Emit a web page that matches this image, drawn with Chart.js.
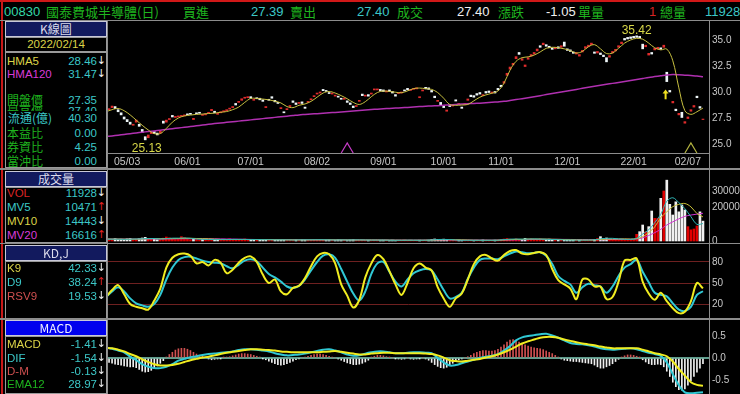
<!DOCTYPE html>
<html lang="zh-Hant">
<head>
<meta charset="utf-8">
<title>00830 K線圖</title>
<script src="https://cdn.jsdelivr.net/npm/chart.js@4.4.1/dist/chart.umd.min.js"></script>
<style>
html, body { margin: 0; padding: 0; background: #000; }
body { position: relative; width: 740px; height: 394px; overflow: hidden;
  font-family: "Liberation Sans", "Noto Sans CJK TC", sans-serif; }
canvas { position: absolute; left: 108px; }
.ln { position: absolute; background: #8c8c8c; z-index: 3; }
.top span { position: absolute; top: 3px; font-size: 13px; line-height: 17px; white-space: nowrap; }
.top .k { font-family: "Noto Sans CJK TC", sans-serif; }
.box { position: absolute; left: 5px; width: 100px; border: 1px solid #9a9a9a; z-index: 2; }
.hdr { background: #121a5e; color: #dcdcec; text-align: center; font-size: 12px; line-height: 14px; height: 14px;
  border-color: #c8c8d8; font-family: "Noto Sans CJK TC", sans-serif; }
.hdr.sel { background: #0000ee; color: #f0f0ff; }
.row { position: absolute; left: 5px; width: 102px; height: 14px; line-height: 14px; font-size: 11.5px;
  white-space: nowrap; z-index: 2; }
.row b { font-weight: normal; position: absolute; left: 2px; }
.row b.k { font-family: "Noto Sans CJK TC", sans-serif; font-size: 12px; }
.row i { font-style: normal; position: absolute; right: 10px; color: #3cc8c8; }
.row u { text-decoration: none; position: absolute; right: 1px; color: #f0f0f0; font-family: "DejaVu Sans", sans-serif; font-size: 11px; }
.row u.up { color: #e02020; }
.g { color: #1fb41f; } .c { color: #3cc8c8; } .y { color: #dcd448; } .m { color: #d83cd8; }
.r { color: #d82424; } .w { color: #f0f0f0; } .s { color: #d05050; } .t { color: #34d8a8; }
</style>
</head>
<body>

<div class="top">
  <span class="t" style="left:4px">00830</span>
  <span class="k g" style="left:46px">國泰費城半導體(日)</span>
  <span class="k g" style="left:183px">買進</span>
  <span class="c" style="left:251px">27.39</span>
  <span class="k g" style="left:290px">賣出</span>
  <span class="c" style="left:357px">27.40</span>
  <span class="k g" style="left:397px">成交</span>
  <span class="w" style="left:457px">27.40</span>
  <span class="k g" style="left:498px">漲跌</span>
  <span class="w" style="left:546px">-1.05</span>
  <span class="k g" style="left:578px">單量</span>
  <span class="r" style="left:649px">1</span>
  <span class="k g" style="left:660px">總量</span>
  <span class="c" style="left:705px">11928</span>
</div>

<!-- K線圖 -->
<div class="box hdr" style="top:21px">K線圖</div>
<div class="box y" style="top:37px;height:13px;line-height:13px;font-size:11.5px;text-align:center">2022/02/14</div>
<div class="box" style="top:52px;height:114px"></div>
<div class="row" style="top:54px"><b class="y">HMA5</b><i>28.46</i><u>↓</u></div>
<div class="row" style="top:67px"><b class="m">HMA120</b><i>31.47</i><u>↓</u></div>
<div class="row" style="top:93px"><b class="k g">開盤價</b><i>27.35</i></div>
<div class="row" style="top:104px"><b class="k g">最高價</b><i>27.40</i></div>
<div class="row" style="top:111px;background:#000;width:100px;left:6px"><b class="k c">流通(億)</b><i style="right:9px">40.30</i></div>
<div class="row" style="top:126px"><b class="k g">本益比</b><i>0.00</i></div>
<div class="row" style="top:140px"><b class="k g">券資比</b><i>4.25</i></div>
<div class="row" style="top:154px"><b class="k g">當沖比</b><i>0.00</i></div>

<!-- 成交量 -->
<div class="box hdr" style="top:171px">成交量</div>
<div class="box" style="top:187px;height:54px"></div>
<div class="row" style="top:186px"><b class="r">VOL</b><i>11928</i><u>↓</u></div>
<div class="row" style="top:200px"><b class="c">MV5</b><i>10471</i><u class="up">↑</u></div>
<div class="row" style="top:214px"><b class="y">MV10</b><i>14443</i><u>↓</u></div>
<div class="row" style="top:228px"><b class="m">MV20</b><i>16616</i><u class="up">↑</u></div>

<!-- KD -->
<div class="box hdr" style="top:245px">KD,J</div>
<div class="box" style="top:261px;height:56px"></div>
<div class="row" style="top:261px"><b class="y">K9</b><i>42.33</i><u>↓</u></div>
<div class="row" style="top:275px"><b class="c">D9</b><i>38.24</i><u class="up">↑</u></div>
<div class="row" style="top:289px"><b class="s">RSV9</b><i>19.53</i><u>↓</u></div>

<!-- MACD -->
<div class="box hdr sel" style="top:320px">MACD</div>
<div class="box" style="top:336px;height:56px"></div>
<div class="row" style="top:337px"><b class="y">MACD</b><i>-1.41</i><u>↓</u></div>
<div class="row" style="top:351px"><b class="c">DIF</b><i>-1.54</i><u>↓</u></div>
<div class="row" style="top:364px"><b class="s">D-M</b><i>-0.13</i><u>↓</u></div>
<div class="row" style="top:377px"><b class="g">EMA12</b><i>28.97</i><u>↓</u></div>

<canvas id="cPrice" width="632" height="149" style="top:20px"></canvas>
<canvas id="cVol" width="632" height="82" style="top:170px"></canvas>
<canvas id="cKd" width="632" height="75" style="top:244px"></canvas>
<canvas id="cMacd" width="632" height="74" style="top:320px"></canvas>

<div class="ln" style="left:0;top:0;width:740px;height:2px;background:#d01818"></div>
<div class="ln" style="left:1px;top:0;width:2px;height:394px;background:#c81818"></div>
<div class="ln" style="left:0;top:20px;width:740px;height:1px"></div>
<div class="ln" style="left:107px;top:20px;width:1px;height:374px"></div>
<div class="ln" style="left:709px;top:20px;width:1px;height:374px"></div>
<div class="ln" style="left:108px;top:153px;width:601px;height:1px"></div>
<div class="ln" style="left:0;top:168px;width:740px;height:2px"></div>
<div class="ln" style="left:0;top:243px;width:740px;height:1px"></div>
<div class="ln" style="left:0;top:318px;width:740px;height:2px"></div>

<script>
// trading days: index 0 = 2021/04/26 ... index 197 = 2022/02/14
var tickDays = [6, 26, 47, 69, 91, 111, 130, 152, 174, 192];
var tickLabels = ['05/03', '06/01', '07/01', '08/02', '09/01', '10/01', '11/01', '12/01', '22/01', '02/07'];

// daily candles (close / open)
var close = [
  28.4, 28.65, 28.4, 28.1, 27.8, 27.4, 27.15, 26.9, 26.9, 27.3,
  26.7, 26.1, 25.4, 25.87, 26.2, 26.0, 25.87, 26.25, 27.0, 27.3,
  27.45, 27.6, 27.65, 27.7, 27.75, 27.8, 27.8, 27.85, 27.47, 27.9,
  27.95, 27.85, 27.9, 28.05, 28.33, 28.0, 27.95, 28.1, 28.2, 28.3,
  28.45, 28.6, 28.75, 29.1, 29.35, 29.5, 29.55, 29.4, 29.3, 29.35,
  29.25, 29.1, 28.6, 29.2, 29.4, 29.05, 28.9, 28.5, 28.0, 28.4,
  28.7, 29.0, 28.8, 29.0, 28.9, 28.43, 29.1, 29.35, 29.65, 29.9,
  30.0, 30.13, 30.05, 29.85, 29.9, 29.7, 29.5, 29.3, 29.4, 29.0,
  28.8, 28.5, 28.7, 29.2, 29.65, 29.7, 29.6, 29.9, 30.3, 30.3,
  30.1, 30.05, 30.1, 30.05, 29.9, 29.6, 29.95, 30.0, 30.1, 30.2,
  30.25, 30.35, 30.4, 29.55, 30.2, 30.3, 30.25, 30.0, 29.45, 29.2,
  28.7, 28.5, 28.27, 28.6, 28.75, 29.13, 28.9, 28.43, 28.9, 29.33,
  29.55, 29.5, 29.7, 29.8, 29.75, 29.9, 29.95, 30.0, 29.9, 30.2,
  30.5, 31.0, 31.8, 32.4, 32.76, 33.4, 33.62, 33.2, 32.6, 33.3,
  33.6, 33.8, 34.13, 34.3, 34.7, 34.4, 34.25, 34.1, 34.3, 34.2,
  34.45, 34.4, 34.0, 33.9, 33.72, 33.8, 33.6, 34.0, 34.36, 34.5,
  34.7, 33.72, 33.9, 33.6, 33.4, 32.9, 33.5, 33.9, 34.1, 34.45,
  34.8, 35.0, 35.1, 35.15, 35.2, 35.25, 35.2, 34.15, 34.5, 33.72,
  33.65, 34.2, 34.3, 34.1, 34.5, 31.0, 30.0, 29.1, 28.2, 27.95,
  27.55, 27.15, 27.6, 28.3, 28.7, 29.45, 28.45, 27.4
];
var open = [
  28.3, 28.5, 28.6, 28.3, 28.0, 27.6, 27.35, 27.1, 26.8, 27.1,
  26.9, 26.4, 25.7, 25.6, 26.0, 26.2, 26.05, 26.05, 27.2, 27.1,
  27.35, 27.75, 27.55, 27.6, 27.65, 27.7, 27.9, 27.95, 27.35, 28.0,
  28.05, 27.75, 27.8, 27.95, 28.2, 28.15, 27.85, 28.0, 28.1, 28.2,
  28.35, 28.5, 28.9, 29.0, 29.2, 29.4, 29.45, 29.55, 29.2, 29.45,
  29.4, 29.25, 28.5, 29.3, 29.55, 29.2, 29.0, 28.4, 28.1, 28.3,
  28.6, 29.15, 28.95, 28.9, 29.05, 28.55, 29.0, 29.25, 29.55, 29.8,
  29.9, 30.25, 30.15, 29.95, 29.8, 29.6, 29.6, 29.4, 29.3, 29.15,
  28.95, 28.65, 28.6, 29.1, 29.8, 29.6, 29.75, 29.8, 30.2, 30.2,
  30.25, 30.2, 30.0, 30.2, 30.05, 29.75, 29.85, 29.9, 30.2, 30.35,
  30.15, 30.25, 30.3, 29.45, 30.1, 30.45, 30.4, 30.15, 29.6, 29.1,
  29.0, 28.65, 28.15, 28.75, 28.65, 29.25, 28.8, 28.55, 28.8, 29.2,
  29.7, 29.65, 29.85, 29.95, 29.65, 30.05, 30.1, 29.9, 30.05, 30.35,
  30.65, 30.85, 31.6, 32.2, 32.6, 33.2, 33.8, 33.05, 32.45, 33.15,
  33.45, 33.65, 33.95, 34.45, 34.55, 34.55, 34.4, 34.25, 34.15, 34.35,
  34.3, 34.8, 34.15, 34.05, 33.85, 33.65, 33.45, 33.85, 34.2, 34.35,
  34.55, 33.85, 33.75, 33.75, 33.55, 33.3, 33.35, 33.75, 33.95, 34.3,
  34.65, 35.15, 35.25, 35.3, 35.35, 35.4, 35.35, 34.6, 34.35, 33.55,
  33.8, 34.05, 34.15, 34.25, 34.3, 31.9, 30.15, 28.95, 28.35, 27.8,
  28.05, 27.0, 27.45, 28.15, 28.55, 29.6, 28.6, 27.35
];
var volume = [
  1200, 900, 1500, 800, 1100, 700, 1300, 1600, 900, 1000,
  1400, 1800, 2200, 1300, 900, 1100, 800, 1000, 1700, 2400,
  1900, 1200, 900, 1500, 2600, 2000, 1100, 800, 1300, 1000,
  700, 900, 1200, 800, 1000, 600, 900, 700, 1100, 800,
  1300, 900, 700, 1000, 800, 1200, 600, 900, 700, 800,
  600, 1000, 700, 500, 900, 600, 800, 700, 500, 600,
  700, 500, 800, 600, 900, 700, 500, 600, 800, 1000,
  700, 600, 500, 700, 600, 500, 800, 600, 700, 500,
  600, 900, 500, 700, 600, 500, 400, 600, 500, 700,
  400, 500, 600, 400, 500, 300, 400, 500, 600, 400,
  500, 400, 300, 500, 400, 600, 500, 900, 1200, 1000,
  800, 1100, 700, 500, 400, 600, 500, 400, 300, 500,
  400, 300, 500, 400, 600, 500, 400, 300, 500, 700,
  900, 1200, 1500, 1100, 800, 1300, 1000, 900, 1600, 1200,
  1400, 1100, 900, 1300, 1000, 800, 1100, 700, 600, 800,
  600, 700, 500, 400, 600, 500, 400, 600, 500, 700,
  800, 1000, 1500, 2600, 1400, 1800, 1100, 900, 700, 1000,
  1200, 1200, 1100, 900, 800, 4000, 5600, 9600, 5600, 8600,
  18000, 13600, 13600, 25600, 30000, 36500, 22000, 15600, 23500, 17500,
  21600, 18600, 8600, 6700, 7200, 9000, 17500, 11928
];
// MACD oscillator (D-M) bars, daily
var osc = [
  -0.10, -0.12, -0.14, -0.15, -0.16, -0.18, -0.19, -0.20, -0.20, -0.22,
  -0.26, -0.30, -0.32, -0.31, -0.28, -0.24, -0.18, -0.12, -0.06, 0.02,
  0.08, 0.13, 0.18, 0.21, 0.22, 0.22, 0.20, 0.17, 0.13, 0.09,
  0.06, 0.04, 0.02, -0.02, -0.04, -0.03, -0.02, -0.01, 0.01, 0.02,
  0.03, 0.05, 0.07, 0.09, 0.10, 0.10, 0.09, 0.08, 0.06, 0.04,
  0.02, -0.01, -0.04, -0.07, -0.10, -0.13, -0.15, -0.16, -0.15, -0.13,
  -0.10, -0.07, -0.04, -0.02, 0.00, 0.02, 0.04, 0.06, 0.08, 0.09,
  0.09, 0.08, 0.06, 0.04, 0.02, 0.00, -0.02, -0.05, -0.08, -0.11,
  -0.13, -0.15, -0.15, -0.14, -0.12, -0.09, -0.05, 0.02, 0.04, 0.06,
  0.06, 0.05, 0.03, 0.01, 0.00, -0.01, -0.02, -0.03, -0.02, 0.00,
  -0.02, -0.03, -0.02, -0.01, 0.00, -0.02, -0.05, -0.10, -0.15, -0.19,
  -0.22, -0.23, -0.21, -0.17, -0.12, -0.08, -0.04, -0.02, 0.00, 0.03,
  0.06, 0.10, 0.13, 0.15, 0.17, 0.17, 0.16, 0.16, 0.17, 0.20,
  0.25, 0.30, 0.36, 0.41, 0.42, 0.40, 0.36, 0.32, 0.30, 0.27,
  0.25, 0.23, 0.22, 0.21, 0.19, 0.16, 0.13, 0.10, 0.06, 0.02,
  -0.02, -0.05, -0.06, -0.07, -0.08, -0.08, -0.09, -0.10, -0.11, -0.12,
  -0.13, -0.16, -0.20, -0.23, -0.23, -0.20, -0.17, -0.13, -0.08, -0.03,
  0.02, 0.05, 0.07, 0.07, 0.06, 0.04, 0.01, -0.04, -0.09, -0.13,
  -0.15, -0.15, -0.14, -0.15, -0.20, -0.30, -0.42, -0.55, -0.65, -0.72,
  -0.73, -0.70, -0.62, -0.52, -0.42, -0.32, -0.23, -0.13
];

// line series, read every other trading day (days -1, 1, 3 ... 197)
var hma5 = [
  28.1, 28.3, 28.42, 28.2, 27.8, 27.3, 26.8, 26.35, 26.0, 26.0,
  26.5, 27.1, 27.5, 27.7, 27.78, 27.85, 27.88, 27.93, 27.97, 28.05,
  28.12, 28.3, 28.55, 29.0, 29.38, 29.38, 29.32, 29.25, 29.12, 28.95,
  28.6, 28.5, 28.72, 28.85, 29.1, 29.5, 29.9, 30.05, 29.9, 29.65,
  29.35, 29.0, 28.8, 29.07, 29.55, 29.95, 30.1, 30.05, 29.98, 29.93,
  30.1, 30.33, 30.38, 30.32, 30.25, 29.95, 29.4, 28.8, 28.72, 28.75,
  28.8, 29.15, 29.5, 29.72, 29.88, 30.1, 30.85, 32.1, 32.95, 33.3,
  33.38, 33.55, 33.85, 34.2, 34.3, 34.26, 34.15, 33.98, 33.75, 33.9,
  34.35, 34.55, 34.15, 33.7, 33.75, 34.2, 34.7, 35.0, 35.16, 35.08,
  34.7, 34.25, 34.05, 34.13, 33.0, 30.4, 28.2, 27.85, 28.1, 28.46
];
var hma120 = [
  25.72, 25.78, 25.85, 25.92, 25.99, 26.06, 26.13, 26.2, 26.26, 26.33,
  26.4, 26.47, 26.54, 26.61, 26.68, 26.75, 26.82, 26.89, 26.96, 27.02,
  27.08, 27.14, 27.2, 27.26, 27.32, 27.38, 27.44, 27.5, 27.56, 27.62,
  27.68, 27.74, 27.8, 27.84, 27.88, 27.92, 27.96, 28.0, 28.04, 28.08,
  28.12, 28.17, 28.22, 28.27, 28.31, 28.35, 28.39, 28.42, 28.45, 28.48,
  28.52, 28.56, 28.6, 28.63, 28.66, 28.69, 28.72, 28.76, 28.8, 28.84,
  28.87, 28.9, 28.93, 28.97, 29.01, 29.05, 29.1, 29.18, 29.27, 29.36,
  29.45, 29.55, 29.65, 29.75, 29.85, 29.95, 30.05, 30.15, 30.25, 30.35,
  30.45, 30.55, 30.65, 30.74, 30.83, 30.92, 31.01, 31.1, 31.2, 31.3,
  31.4, 31.48, 31.56, 31.64, 31.68, 31.66, 31.62, 31.58, 31.54, 31.47
];
var mv5 = [
  1100, 1100, 1100, 1000, 1100, 1200, 1300, 1500, 1500, 1200,
  1400, 1700, 1700, 1800, 1600, 1200, 1000, 900, 850, 850,
  850, 950, 950, 950, 850, 850, 800, 750, 700, 700,
  650, 600, 650, 700, 700, 750, 750, 650, 600, 650,
  600, 650, 650, 600, 550, 550, 550, 500, 450, 450,
  500, 480, 450, 500, 600, 900, 950, 850, 600, 450,
  450, 450, 450, 450, 450, 500, 850, 1100, 1200, 1100,
  1200, 1250, 1150, 1050, 900, 800, 650, 600, 550, 500,
  550, 700, 1300, 1600, 1600, 1300, 1000, 1000, 1600, 4200,
  6700, 11000, 16000, 23860, 25940, 23000, 19400, 14600, 10000, 10471
];
var mv10 = [
  1150, 1150, 1150, 1100, 1100, 1100, 1200, 1300, 1400, 1400,
  1400, 1400, 1500, 1600, 1650, 1500, 1400, 1300, 1100, 950,
  880, 900, 900, 920, 900, 880, 850, 800, 780, 750,
  700, 680, 660, 660, 680, 700, 700, 700, 680, 650,
  640, 620, 620, 610, 600, 580, 560, 540, 510, 480,
  480, 470, 470, 480, 520, 640, 720, 760, 740, 680,
  580, 480, 450, 450, 450, 460, 620, 780, 930, 1000,
  1150, 1170, 1170, 1120, 1050, 970, 860, 760, 680, 610,
  580, 620, 900, 1100, 1150, 1200, 1250, 1150, 1400, 2600,
  5000, 8500, 14000, 17500, 20600, 22000, 22500, 20500, 16500, 14443
];
var mv20 = [
  1150, 1150, 1150, 1150, 1150, 1150, 1180, 1200, 1220, 1250,
  1280, 1300, 1330, 1370, 1400, 1400, 1380, 1350, 1300, 1250,
  1200, 1150, 1080, 1000, 950, 900, 880, 860, 840, 820,
  800, 780, 760, 740, 720, 710, 700, 690, 680, 670,
  660, 650, 640, 630, 620, 610, 600, 580, 560, 540,
  530, 520, 520, 520, 530, 560, 600, 620, 620, 610,
  600, 580, 560, 540, 520, 500, 540, 600, 680, 760,
  850, 930, 980, 1000, 1000, 990, 960, 920, 880, 840,
  790, 760, 790, 850, 900, 950, 1000, 1050, 1250, 1900,
  3300, 5000, 7000, 9600, 11500, 13300, 14800, 15600, 16100, 16616
];
var k9 = [
  30, 40, 47, 34, 20, 16, 14, 12, 25, 42,
  72, 86, 91, 92, 89, 78, 80, 75, 83, 79,
  64, 69, 79, 86, 88, 80, 62, 50, 55, 38,
  34, 43, 46, 57, 74, 88, 93, 91, 78, 48,
  32, 15, 26, 58, 78, 90, 84, 67, 48, 33,
  50, 71, 78, 72, 68, 44, 28, 16, 28, 35,
  55, 77, 88, 90, 85, 82, 90, 95.7, 97, 92,
  91, 93, 94, 90, 70, 54, 48, 42, 27, 55,
  55, 45, 45, 27, 30, 52, 82, 83, 85, 52,
  35, 26, 36, 24, 14, 7, 9, 24, 50, 42.33
];
var d9 = [
  30, 38, 44, 38, 28, 21, 18, 16, 20, 33,
  55, 72, 83, 87, 87.6, 85, 82, 80, 79, 78,
  74, 71, 76, 82, 84, 81, 72, 63, 58, 52,
  45, 43, 46, 55, 68, 80, 89, 91, 86, 70,
  52, 35, 25, 38, 63, 78, 80, 66, 52, 45,
  55, 64, 68, 70, 68, 55, 40, 28, 30, 36,
  56, 72, 83, 85, 85, 84, 88, 92, 95, 94,
  92.4, 93, 94, 89, 77, 60, 53, 48, 36, 44,
  49, 47, 45, 36, 45, 60, 72, 77, 83, 66,
  51, 36, 33, 31, 21, 12, 10, 16, 33, 38.24
];
var dif = [
  0.24, 0.21, 0.17, 0.13, 0.03, -0.05, -0.14, -0.2, -0.23, -0.23,
  -0.2, -0.14, -0.06, -0.02, 0.02, 0.04, 0.07, 0.09, 0.1, 0.12,
  0.13, 0.15, 0.18, 0.2, 0.2, 0.19, 0.17, 0.15, 0.11, 0.08,
  0.06, 0.07, 0.08, 0.1, 0.13, 0.16, 0.19, 0.2, 0.17, 0.13,
  0.08, 0.05, 0.06, 0.1, 0.13, 0.15, 0.15, 0.13, 0.11, 0.11,
  0.12, 0.13, 0.13, 0.12, 0.11, 0.0, -0.1, -0.17, -0.16, -0.12,
  -0.08, -0.04, 0.0, 0.03, 0.05, 0.09, 0.17, 0.27, 0.4, 0.47,
  0.5, 0.52, 0.54, 0.55, 0.51, 0.46, 0.4, 0.34, 0.32, 0.31,
  0.29, 0.26, 0.22, 0.2, 0.19, 0.2, 0.21, 0.22, 0.2, 0.16,
  0.12, 0.09, 0.05, -0.1, -0.37, -0.62, -0.78, -0.8, -0.79, -0.78
];
var macd = [
  0.23, 0.22, 0.19, 0.15, 0.09, 0.04, -0.03, -0.09, -0.14, -0.17,
  -0.17, -0.16, -0.13, -0.09, -0.05, -0.02, 0.01, 0.03, 0.06, 0.09,
  0.12, 0.14, 0.16, 0.18, 0.2, 0.2, 0.19, 0.18, 0.17, 0.15,
  0.14, 0.13, 0.13, 0.13, 0.13, 0.13, 0.14, 0.15, 0.16, 0.14,
  0.12, 0.1, 0.08, 0.08, 0.1, 0.11, 0.12, 0.12, 0.11, 0.11,
  0.11, 0.11, 0.11, 0.1, 0.09, 0.06, 0.01, -0.05, -0.07, -0.08,
  -0.06, -0.04, -0.02, 0.01, 0.04, 0.08, 0.13, 0.19, 0.26, 0.33,
  0.38, 0.42, 0.46, 0.48, 0.48, 0.46, 0.42, 0.39, 0.36, 0.33,
  0.31, 0.29, 0.26, 0.24, 0.22, 0.22, 0.22, 0.22, 0.22, 0.19,
  0.15, 0.11, 0.08, 0.04, -0.08, -0.25, -0.4, -0.55, -0.61, -0.63
];

// marks on the price panel
var peakDay = 175, peakHigh = 35.42;
var lowDay = 12.5, lowLow = 25.13;
var signalDays = [79, 193];
var signalColors = ['#c83cc8', '#b4b440'];
var arrowDay = 184.6, arrowFrom = 29.3, arrowTo = 30.25;

var AXIS_FONT = '"Liberation Sans", Arial, sans-serif';
var xMin = -0.35, xMax = 199;
var days = close.map((v, i) => i);
var lineDays = hma5.map((v, i) => i * 2 - 1);

Chart.defaults.animation = false;
Chart.defaults.events = [];
Chart.defaults.plugins.legend.display = false;
Chart.defaults.plugins.tooltip.enabled = false;
Chart.defaults.font.family = AXIS_FONT;
Chart.defaults.font.size = 10;
Chart.defaults.color = '#c8c8c8';

function pts(xs, ys) {
    return ys.map((v, i) => ({ x: xs[i], y: v }));
}

function lineSet(values, color, width, order) {
    return {
        type: 'line',
        data: pts(lineDays, values),
        borderColor: color,
        borderWidth: width,
        pointRadius: 0,
        tension: 0.35,
        order: order
    };
}

function xAxis(show) {
    return {
        type: 'linear',
        min: xMin,
        max: xMax,
        offset: false,
        bounds: 'data',
        display: show,
        grid: { display: false, drawTicks: false },
        border: { display: false },
        afterBuildTicks: s => { s.ticks = tickDays.map(v => ({ value: v })); },
        afterFit: s => { s.height = show ? 16 : 0; s.paddingLeft = 0; s.paddingRight = 0; },
        ticks: {
            autoSkip: false,
            maxRotation: 0,
            padding: 3,
            color: '#c8c8c8',
            font: { size: 10.5 },
            callback: (v, i) => tickLabels[i]
        }
    };
}

function yAxis(min, max, ticks, fmt, grid) {
    return {
        position: 'right',
        min: min,
        max: max,
        bounds: 'data',
        grid: grid || { display: false, drawTicks: false },
        border: { display: false },
        afterBuildTicks: s => { s.ticks = ticks.map(v => ({ value: v })); },
        afterFit: s => { s.width = 31; s.paddingTop = 0; s.paddingBottom = 0; },
        ticks: { padding: 3, color: '#c8c8c8', autoSkip: false, callback: fmt }
    };
}

function options(y, showX, padBottom) {
    return {
        responsive: false,
        layout: { padding: { left: 0, right: 0, top: 0, bottom: padBottom || 0 } },
        scales: { x: xAxis(showX), y: y }
    };
}

var priceMarks = {
    id: 'priceMarks',
    afterDatasetsDraw(chart) {
        var c = chart.ctx, sx = chart.scales.x, sy = chart.scales.y, bottom = chart.chartArea.bottom;
        c.save();
        c.fillStyle = '#d8d848';
        c.font = '12px ' + AXIS_FONT;
        c.textAlign = 'center';
        c.textBaseline = 'bottom';
        c.fillText(peakHigh.toFixed(2), sx.getPixelForValue(peakDay), sy.getPixelForValue(peakHigh) + 1);
        c.textBaseline = 'top';
        c.fillText(lowLow.toFixed(2), sx.getPixelForValue(lowDay), sy.getPixelForValue(lowLow));

        c.lineWidth = 1.2;
        signalDays.forEach((d, i) => {
            var px = sx.getPixelForValue(d);
            c.strokeStyle = signalColors[i];
            c.beginPath();
            c.moveTo(px - 6, bottom);
            c.lineTo(px, bottom - 10);
            c.lineTo(px + 6, bottom);
            c.stroke();
        });

        var ax = sx.getPixelForValue(arrowDay), a0 = sy.getPixelForValue(arrowFrom), a1 = sy.getPixelForValue(arrowTo);
        c.strokeStyle = '#f0e020';
        c.fillStyle = '#f0e020';
        c.lineWidth = 2;
        c.beginPath();
        c.moveTo(ax, a0);
        c.lineTo(ax, a1 + 3);
        c.stroke();
        c.beginPath();
        c.moveTo(ax - 3, a1 + 4);
        c.lineTo(ax, a1);
        c.lineTo(ax + 3, a1 + 4);
        c.closePath();
        c.fill();
        c.restore();
    }
};

new Chart(document.getElementById('cPrice').getContext('2d'), {
    type: 'bar',
    data: {
        datasets: [
            lineSet(hma5, '#c8c040', 1, 1),
            lineSet(hma120, '#b030b0', 1.5, 2),
            {
                type: 'bar',
                data: days.map(i => ({ x: i, y: [open[i], close[i]] })),
                backgroundColor: days.map(i => close[i] >= open[i] ? '#e02c2c' : '#eef6f8'),
                barThickness: 2,
                borderSkipped: false,
                order: 3
            }
        ]
    },
    options: options(yAxis(24.135, 36.923, [25, 27.5, 30, 32.5, 35], v => v.toFixed(1)), true),
    plugins: [priceMarks]
});

new Chart(document.getElementById('cVol').getContext('2d'), {
    type: 'bar',
    data: {
        datasets: [
            lineSet(mv5, '#30b8b8', 1, 1),
            lineSet(mv10, '#c8c038', 1, 2),
            lineSet(mv20, '#d030d0', 1, 3),
            {
                type: 'bar',
                data: pts(days, volume),
                backgroundColor: days.map(i => i === 0 || close[i] >= close[i - 1] ? '#e00000' : '#f0f0f0'),
                barThickness: 2,
                order: 4
            }
        ]
    },
    options: options(yAxis(-1200, 42600, [0, 20000, 30000], v => String(v)), false, 9)
});

new Chart(document.getElementById('cKd').getContext('2d'), {
    type: 'line',
    data: {
        datasets: [
            lineSet(k9, '#f0ec20', 2, 1),
            lineSet(d9, '#30c8d4', 2, 2)
        ]
    },
    options: options(yAxis(-1.4, 105.7, [20, 50, 80], v => String(v),
        { color: '#6e2020', lineWidth: 1, drawTicks: false }), false)
});

new Chart(document.getElementById('cMacd').getContext('2d'), {
    type: 'bar',
    data: {
        datasets: [
            lineSet(macd, '#f0ec20', 2, 1),
            lineSet(dif, '#30c8d4', 2, 2),
            {
                type: 'bar',
                data: pts(days, osc),
                backgroundColor: osc.map(v => v >= 0 ? '#d05050' : '#f0f0f0'),
                barThickness: 1,
                order: 3
            }
        ]
    },
    options: options(yAxis(-0.818, 0.864, [-0.5, 0, 0.5], v => v.toFixed(1),
        { color: ctx => ctx.tick && ctx.tick.value === 0 ? '#5f9c8c' : 'rgba(0,0,0,0)', lineWidth: 2, drawTicks: false }), false)
});
</script>
</body>
</html>
